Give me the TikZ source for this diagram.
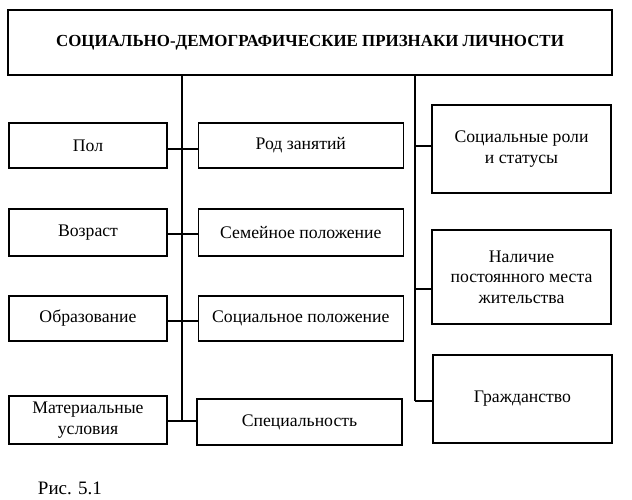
\documentclass[tikz,border=0pt]{standalone}
\usepackage{fontspec}
\setmainfont{Liberation Serif}
\usepackage{tikz}
\usetikzlibrary{positioning}

\begin{document}
\begin{tikzpicture}[
  x=1pt,y=-1pt,
  blk/.style={draw,line width=1.3pt,inner sep=0pt,align=center,
              minimum height=45pt,font=\fontsize{17.7}{20.5}\selectfont},
  ttl/.style={draw,line width=1.3pt,inner sep=0pt,minimum width=604pt,
              minimum height=65pt,font=\fontsize{16.9}{20}\selectfont\bfseries},
  lnk/.style={line width=1.3pt}
]
\useasboundingbox (0,0) rectangle (632,500);

\node[ttl] (top) at (310,42.5) {СОЦИАЛЬНО-ДЕМОГРАФИЧЕСКИЕ ПРИЗНАКИ ЛИЧНОСТИ};

% left column
\node[blk,minimum width=158pt] (pol) at (88,145.5) {Пол};
\node[blk,minimum width=158pt,minimum height=47pt] (voz) at (88,232.5) {Возраст};
\node[blk,minimum width=158pt] (obr) at (88,318.5) {Образование};
\node[blk,minimum width=158pt,minimum height=48pt] (mat) at (88,420) {Материальные\\условия};

% middle column
\node[blk,minimum width=205pt,right=30pt of pol] (rod) {Род занятий};
\node[blk,minimum width=205pt,minimum height=47pt,right=30pt of voz] (sem) {Семейное положение};
\node[blk,minimum width=205pt,right=30pt of obr] (soc) {Социальное положение};
\node[blk,minimum width=205pt,minimum height=46pt] (spec) at (299.5,422) {Специальность};

% right column
\node[blk,minimum width=179pt,minimum height=88pt] (rol) at (521.5,149) {Социальные роли\\и статусы};
\node[blk,minimum width=179pt,minimum height=94pt] (mes) at (521.5,277) {Наличие\\постоянного места\\жительства};
\node[blk,minimum width=179pt,minimum height=88pt] (grz) at (522.5,399) {Гражданство};

% trunks and branch heights
\coordinate (tA) at (182,421);
\coordinate (tB) at (415,401);
\coordinate (hA1) at (182,149);
\coordinate (hA2) at (182,234);
\coordinate (hA3) at (182,321);
\coordinate (hB1) at (415,146);
\coordinate (hB2) at (415,289);

\draw[lnk] (top.south -| tA) -- (tA);
\draw[lnk] (top.south -| tB) -- (tB);

\draw[lnk] (pol.east |- hA1) -- (rod.west |- hA1);
\draw[lnk] (voz.east |- hA2) -- (sem.west |- hA2);
\draw[lnk] (obr.east |- hA3) -- (soc.west |- hA3);
\draw[lnk] (mat.east |- tA) -- (spec.west |- tA);

\draw[lnk] (hB1) -- (rol.west |- hB1);
\draw[lnk] (hB2) -- (mes.west |- hB2);
\draw[lnk] (tB) -- (grz.west |- tB);

\node[font=\fontsize{19}{22}\selectfont] (cap) at (70,488) {Рис. 5.1};
\end{tikzpicture}
\end{document}
